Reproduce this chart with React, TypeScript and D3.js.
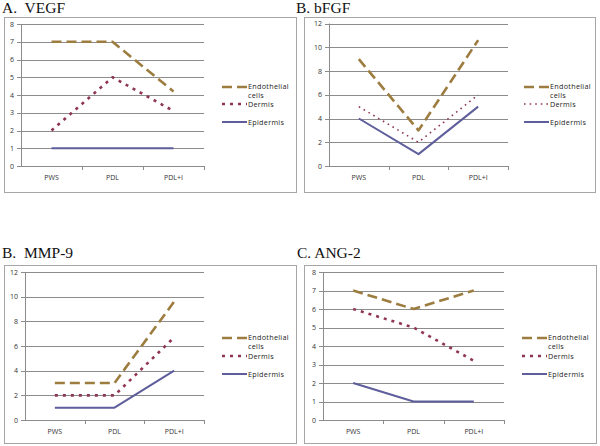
import React from "react";
import * as d3 from "d3";

const categories = ["PWS", "PDL", "PDL+I"];
const seriesNames = ["Endothelial cells", "Dermis", "Epidermis"];

const vegfEndothelial = [7, 7, 4.2];
const vegfDermis = [2, 5, 3.1];
const vegfEpidermis = [1, 1, 1];

const bfgfEndothelial = [9, 3, 10.6];
const bfgfDermis = [5, 2, 6];
const bfgfEpidermis = [4, 1, 5];

const mmpEndothelial = [3, 3, 9.6];
const mmpDermis = [2, 2, 6.7];
const mmpEpidermis = [1, 1, 4];

const angEndothelial = [7, 6, 7];
const angDermis = [6, 5, 3.2];
const angEpidermis = [2, 1, 1];

const titles = ["A.  VEGF", "B. bFGF", "B.  MMP-9", "C. ANG-2"];

const COLORS = ["#9d7c3f", "#8e3556", "#5e5e9c"];
const DASHES = ["10,5", "3,5", ""];
const WIDTHS = [2.6, 2.6, 2];

type PanelProps = {
  title: string;
  titleX: number;
  titleY: number;
  box: [number, number, number, number];
  plot: [number, number, number, number];
  yMax: number;
  yStep: number;
  series: number[][];
  legendX: number;
  legendY: number[];
  dermisDash?: string;
  dermisWidth?: number;
};

function Panel(p: PanelProps) {
  const [px0, py0, px1, py1] = p.plot;
  const x = d3.scaleBand<string>().domain(categories).range([px0, px1]).padding(0);
  const y = d3.scaleLinear().domain([0, p.yMax]).range([py1, py0]);
  const ticks = d3.range(0, p.yMax + 0.001, p.yStep);
  const line = d3
    .line<number>()
    .x((_, i) => (x(categories[i]) as number) + x.bandwidth() / 2)
    .y((d) => y(d));
  const [bx0, by0, bx1, by1] = p.box;
  const tickFont = "'Open Sans', 'DejaVu Sans', sans-serif";
  return (
    <g>
      <text
        x={p.titleX}
        y={p.titleY}
        fontFamily="'Liberation Serif', 'Times New Roman', serif"
        fontSize={15.5}
        fill="#111"
        style={{ whiteSpace: "pre" }}
      >
        {p.title}
      </text>
      <rect x={bx0 + 0.5} y={by0 + 0.5} width={bx1 - bx0} height={by1 - by0} fill="white" stroke="#a6a6a6" strokeWidth={1} />
      {ticks.map((t) => (
        <g key={t}>
          {t > 0 && (
            <line x1={px0} x2={px1} y1={Math.round(y(t)) + 0.5} y2={Math.round(y(t)) + 0.5} stroke="#8c8c8c" strokeWidth={1} />
          )}
          <line x1={px0 - 4} x2={px0} y1={Math.round(y(t)) + 0.5} y2={Math.round(y(t)) + 0.5} stroke="#8c8c8c" strokeWidth={1} />
          <text x={px0 - 7} y={y(t) + 2.5} textAnchor="end" fontFamily={tickFont} fontSize={7} fill="#333">
            {t}
          </text>
        </g>
      ))}
      <line x1={px0 + 0.5} x2={px0 + 0.5} y1={py0} y2={py1} stroke="#8c8c8c" strokeWidth={1} />
      <line x1={px0} x2={px1} y1={Math.round(py1) + 0.5} y2={Math.round(py1) + 0.5} stroke="#8c8c8c" strokeWidth={1} />
      {categories.map((c) => (
        <line
          key={"t" + c}
          x1={Math.round((x(c) as number) + x.bandwidth()) + 0.5}
          x2={Math.round((x(c) as number) + x.bandwidth()) + 0.5}
          y1={py1}
          y2={py1 + 4}
          stroke="#8c8c8c"
        />
      ))}
      {categories.map((c) => (
        <text
          key={c}
          x={(x(c) as number) + x.bandwidth() / 2}
          y={py1 + 14}
          textAnchor="middle"
          fontFamily={tickFont}
          fontSize={7}
          fill="#333"
        >
          {c}
        </text>
      ))}
      {p.series.map((s, i) => (
        <path
          key={i}
          d={line(s) || ""}
          fill="none"
          stroke={COLORS[i]}
          strokeWidth={i === 1 && p.dermisWidth ? p.dermisWidth : WIDTHS[i]}
          strokeDasharray={i === 1 && p.dermisDash ? p.dermisDash : DASHES[i]}
          strokeLinejoin="round"
        />
      ))}
      {seriesNames.map((n, i) => (
        <g key={n}>
          <line
            x1={p.legendX}
            x2={p.legendX + 25}
            y1={p.legendY[i]}
            y2={p.legendY[i]}
            stroke={COLORS[i]}
            strokeWidth={i === 1 && p.dermisWidth ? p.dermisWidth : WIDTHS[i]}
            strokeDasharray={i === 1 && p.dermisDash ? p.dermisDash : DASHES[i]}
          />
          {i === 0 ? (
            <text x={p.legendX + 26} y={p.legendY[i] + 2} fontFamily={tickFont} fontSize={7.2} fill="#222" letterSpacing={0.3}>
              <tspan x={p.legendX + 26}>Endothelial</tspan>
              <tspan x={p.legendX + 26} dy={8.5}>
                cells
              </tspan>
            </text>
          ) : (
            <text x={p.legendX + 26} y={p.legendY[i] + 3} fontFamily={tickFont} fontSize={7.2} fill="#222" letterSpacing={0.3}>
              {n}
            </text>
          )}
        </g>
      ))}
    </g>
  );
}

export default function App() {
  return (
    <svg
      width={600}
      height={446}
      style={{ position: "absolute", left: 0, top: 0, background: "white" }}
    >
      <rect x={0} y={0} width={600} height={446} fill="white" />
      <Panel
        title={titles[0]}
        titleX={2}
        titleY={12.5}
        box={[4, 17, 296, 192]}
        plot={[21, 24, 204, 166]}
        yMax={8}
        yStep={1}
        series={[vegfEndothelial, vegfDermis, vegfEpidermis]}
        legendX={222}
        legendY={[87, 104, 122]}
      />
      <Panel
        title={titles[1]}
        titleX={296}
        titleY={12.5}
        box={[304, 17, 595, 192]}
        plot={[329, 23.5, 508, 166]}
        yMax={12}
        yStep={2}
        series={[bfgfEndothelial, bfgfDermis, bfgfEpidermis]}
        legendX={524}
        legendY={[87, 104, 122]}
        dermisDash="1.6,4"
        dermisWidth={1.6}
      />
      <Panel
        title={titles[2]}
        titleX={2}
        titleY={258}
        box={[4, 265, 296, 443]}
        plot={[25, 272, 204, 420]}
        yMax={12}
        yStep={2}
        series={[mmpEndothelial, mmpDermis, mmpEpidermis]}
        legendX={222}
        legendY={[338, 356, 374]}
      />
      <Panel
        title={titles[3]}
        titleX={297}
        titleY={258}
        box={[304, 265, 596, 443]}
        plot={[323, 272, 504, 420]}
        yMax={8}
        yStep={1}
        series={[angEndothelial, angDermis, angEpidermis]}
        legendX={522}
        legendY={[338, 356, 374]}
      />
    </svg>
  );
}
